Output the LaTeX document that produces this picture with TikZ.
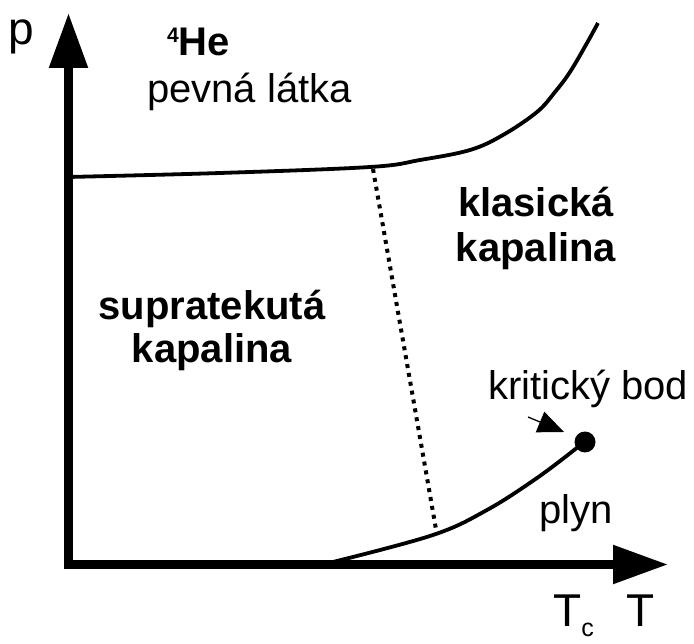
\documentclass[tikz,border=0pt]{standalone}
\usepackage{fontspec}
\setmainfont{Liberation Sans}
\usetikzlibrary{arrows.meta}
\begin{document}
\begin{tikzpicture}[x=1pt,y=-1pt,
  lbl/.style={inner sep=0pt,font=\fontsize{40}{45}\selectfont},
  blbl/.style={inner sep=0pt,font=\fontsize{40}{45}\selectfont\bfseries},
  axis/.style={line width=8.5pt,line join=miter,
    {Triangle[length=55pt,width=37pt]}-{Triangle[length=55pt,width=37pt]}},
  curve/.style={line width=3.8pt},
  lambda/.style={line width=4pt,dash pattern=on 4pt off 5pt},
]
\useasboundingbox (0,0) rectangle (694,644);
% axes
\coordinate (ptip) at (68.5,13);
\coordinate (orig) at (68.5,564.5);
\coordinate (Ttip) at (668,564.5);
\draw[axis] (ptip) -- (orig) -- (Ttip);
% melting curve
\draw[curve] plot[smooth,tension=0.6] coordinates {(68,177) (220,173) (370,167) (420,160) (470,150) (503,135) (537,112) (555,92) (570,72) (587,43) (598,23)};
% critical point
\node[circle,fill=black,inner sep=0pt,minimum size=21pt] (cp) at (585,442) {};
% vapour curve
\draw[curve] plot[smooth,tension=0.6] coordinates {(333,562) (433,535) (487,510) (537,478) (578,447)};
% lambda line
\coordinate (lt) at (373,169);
\coordinate (lb) at (437,535);
\draw[lambda] (lt) -- (lb);
% small arrow
\coordinate (as) at (528,417);
\coordinate (ae) at (564,432);
\draw[line width=1.3pt,-{Triangle[length=26pt,width=22pt]}] (as) -- (ae);
% labels
\node[inner sep=0pt,anchor=base west,font=\fontsize{46}{46}\selectfont] (p) at (8,45) {p};
\node[blbl,anchor=base west] (he) at (167,56) {\raisebox{13pt}{\fontsize{21}{21}\selectfont 4}He};
\node[lbl,anchor=base west] (solid) at (147,103) {pevná látka};
\node[blbl,anchor=base] (kl1) at (536,217) {klasická};
\node[blbl,anchor=base] (kl2) at (536,262) {kapalina};
\node[blbl,anchor=base] (sf1) at (212,320) {supratekutá};
\node[blbl,anchor=base] (sf2) at (212,363) {kapalina};
\node[lbl,anchor=base west] (kb) at (488,400) {kritický bod};
\node[lbl,anchor=base west] (gas) at (539,523) {plyn};
\node[inner sep=0pt,anchor=base west,font=\fontsize{46}{46}\selectfont] (Tc) at (553,626) {T\raisebox{-10pt}{\fontsize{25}{25}\selectfont c}};
\node[inner sep=0pt,anchor=base west,font=\fontsize{46}{46}\selectfont] (T) at (626,626) {T};
\end{tikzpicture}
\end{document}
